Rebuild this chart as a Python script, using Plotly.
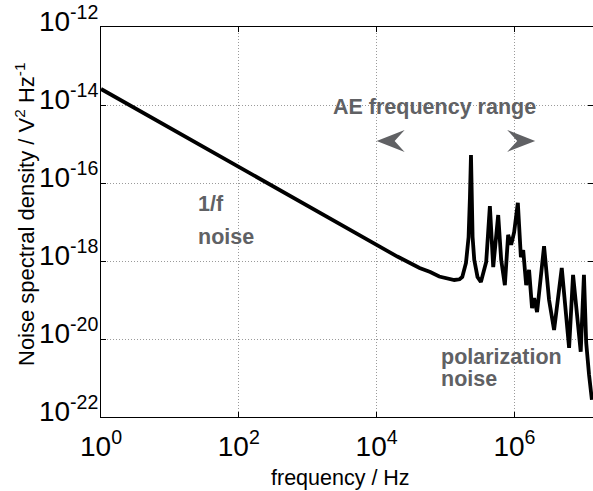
import math
import plotly.graph_objects as go

# Noise spectral density vs frequency (1/f region, then resonance / polarization peaks)
freq_hz = [1.0, 1.0e2, 1.0e4, 2.0e4, 4.2e4, 6.0e4, 8.1e4, 1.1e5, 1.34e5, 1.6e5,
           1.75e5, 1.98e5, 2.16e5, 2.26e5, 2.34e5, 2.47e5, 2.61e5, 2.91e5, 3.26e5, 3.89e5,
           4.40e5, 4.92e5, 5.81e5, 6.42e5, 7.26e5, 8.1e5, 8.96e5, 9.9e5, 1.12e6, 1.24e6,
           1.34e6, 1.48e6, 1.63e6, 1.80e6, 1.93e6, 2.13e6, 2.69e6, 3.18e6, 3.76e6, 4.86e6,
           6.21e6, 7.09e6, 9.16e6, 1.02e7, 1.10e7, 1.21e7, 1.33e7]
psd_v2_per_hz = [2.57e-14, 2.57e-16, 2.57e-18, 1.3e-18, 6.6e-19, 5.2e-19, 4.0e-19, 3.6e-19, 3.26e-19, 3.4e-19,
                 3.9e-19, 8.9e-19, 4.1e-18, 4.37e-17, 5.2e-16, 4.1e-18, 1.07e-18, 3.9e-19, 2.9e-19, 9.4e-19,
                 2.57e-17, 7.0e-19, 1.51e-17, 1.07e-18, 2.4e-19, 4.7e-18, 2.6e-18, 5.5e-18, 3.1e-17, 1.26e-18,
                 1.9e-18, 2.4e-19, 5.9e-19, 6.2e-20, 1.12e-19, 4.9e-20, 2.4e-18, 1.0e-19, 1.7e-20, 6.6e-19,
                 5.9e-21, 4.4e-19, 4.7e-21, 4.4e-19, 7.9e-21, 1.2e-21, 2.75e-22]

# Acoustic-emission band marked by the two arrowheads
ae_range_hz = [1.0e4, 2.0e6]

x_tick_vals = [1e0, 1e2, 1e4, 1e6]
x_tick_text = ["10<sup>0</sup>", "10<sup>2</sup>", "10<sup>4</sup>", "10<sup>6</sup>"]
y_tick_vals = [1e-22, 1e-20, 1e-18, 1e-16, 1e-14, 1e-12]
y_tick_text = ["10<sup>-22</sup>", "10<sup>-20</sup>", "10<sup>-18</sup>",
               "10<sup>-16</sup>", "10<sup>-14</sup>", "10<sup>-12</sup>"]

X_RANGE = [0, 7.14]      # log10(Hz)
Y_RANGE = [-22, -12]     # log10(V^2/Hz)

FONT = "Liberation Sans, Arial, Helvetica, sans-serif"
GRAY = "#606164"

fig = go.Figure()
fig.add_trace(go.Scatter(
    x=freq_hz, y=psd_v2_per_hz, mode="lines",
    line=dict(color="black", width=3.8),
    showlegend=False, hoverinfo="skip",
))

axis_common = dict(
    type="log", showline=True, linecolor="black", linewidth=1,
    ticks="inside", ticklen=5, tickcolor="black", tickwidth=1,
    showgrid=True, gridcolor="#9a9a9a", gridwidth=1, griddash="1px,2px",
    zeroline=False, tickfont=dict(family=FONT, size=28, color="black"),
)

fig.update_layout(
    width=593, height=491,
    margin=dict(l=101, r=0, t=27, b=74),
    paper_bgcolor="white", plot_bgcolor="white",
    font=dict(family=FONT, color="black"),
    xaxis=dict(
        **axis_common, range=X_RANGE, mirror="ticks",
        tickvals=x_tick_vals, ticktext=x_tick_text, ticklabelstandoff=4,
    ),
    yaxis=dict(
        **axis_common, range=Y_RANGE, mirror="ticks",
        tickvals=y_tick_vals, ticktext=y_tick_text,
        ticklabelstandoff=-4, ticklabelshift=-6,
    ),
)

# Axis titles
fig.add_annotation(text="frequency / Hz", xref="paper", yref="paper",
                   x=(340 - 101) / 492, y=(417 - 478) / 390,
                   xanchor="center", yanchor="middle", showarrow=False,
                   font=dict(family=FONT, size=21.5, color="black"))
fig.add_annotation(text="Noise spectral density / V<sup>2</sup> Hz<sup>-1</sup>",
                   xref="paper", yref="paper",
                   x=(25 - 101) / 492, y=(417 - 215) / 390, textangle=-90,
                   xanchor="center", yanchor="middle", showarrow=False,
                   font=dict(family=FONT, size=22, color="black"))

label_font = dict(family=FONT, size=21.5, color=GRAY, weight="bold")
labels = [
    ("AE frequency range", 10 ** ((331 - 101) / 69.05), -14.05),
    ("1/f", 10 ** ((196 - 101) / 69.05), -16.55),
    ("noise", 10 ** ((196 - 101) / 69.05), -17.38),
    ("polarization", 10 ** ((440 - 101) / 69.05), -20.45),
    ("noise", 10 ** ((440 - 101) / 69.05), -21.03),
]
for text, fx, ly in labels:
    fig.add_annotation(x=math.log10(fx), y=ly, xref="x", yref="y", text=text,
                       showarrow=False, xanchor="left", yanchor="middle", font=label_font)

# Notched arrowheads pointing outwards at the AE band limits
arrow_y = -14.92
left_path = "M0,0 L28,11 L18,0 L28,-11 Z"
right_path = "M0,0 L-28,11 L-18,0 L-28,-11 Z"
for fx, path in zip(ae_range_hz, [left_path, right_path]):
    fig.add_shape(type="path", xref="paper", yref="paper",
                  xsizemode="pixel", ysizemode="pixel",
                  xanchor=(math.log10(fx) - X_RANGE[0]) / (X_RANGE[1] - X_RANGE[0]),
                  yanchor=(arrow_y - Y_RANGE[0]) / (Y_RANGE[1] - Y_RANGE[0]),
                  path=path, fillcolor=GRAY, line=dict(width=0))

fig.write_html("out.html")
